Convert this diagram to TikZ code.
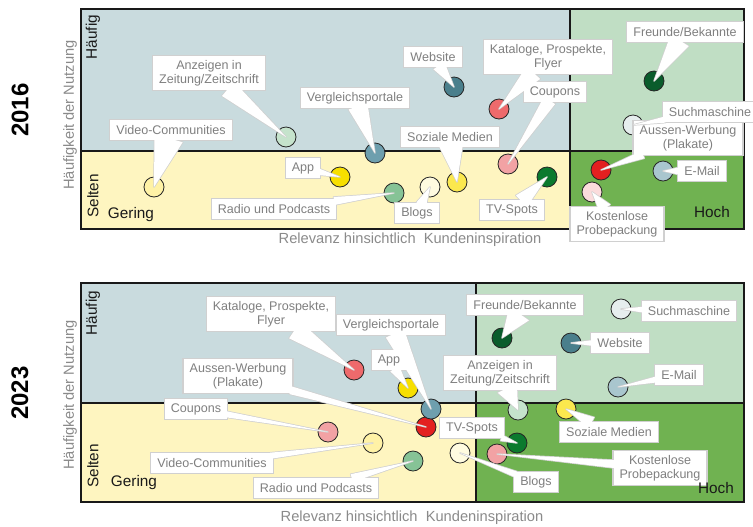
\documentclass[tikz,border=0pt]{standalone}
\usepackage{fontspec}
\setmainfont{Liberation Sans}
\usepackage{tikz}
\usetikzlibrary{calc}
\usepackage{xcolor}

\definecolor{qblue}{HTML}{C9DBDE}
\definecolor{qyellow}{HTML}{FEF5C0}
\definecolor{qlight}{HTML}{C0DEC4}
\definecolor{qgreen}{HTML}{70B251}
\definecolor{labelgray}{HTML}{7F7F7F}
\definecolor{axisgray}{HTML}{8A8A8A}
\definecolor{boxgray}{HTML}{D0D0D0}
\definecolor{cVid}{HTML}{FFF2A6}
\definecolor{cAnz}{HTML}{C5E3CC}
\definecolor{cVgl}{HTML}{6E9FAE}
\definecolor{cWeb}{HTML}{4A7F8C}
\definecolor{cKat}{HTML}{EE6A6C}
\definecolor{cCou}{HTML}{F2A2A4}
\definecolor{cSoz}{HTML}{FBE84E}
\definecolor{cTV}{HTML}{0B7A2E}
\definecolor{cBlog}{HTML}{FFFBE0}
\definecolor{cRad}{HTML}{86C396}
\definecolor{cApp}{HTML}{F7DF00}
\definecolor{cFr}{HTML}{0A5C2C}
\definecolor{cSuch}{HTML}{E6EEEE}
\definecolor{cAW}{HTML}{E32020}
\definecolor{cMail}{HTML}{A9C6CE}
\definecolor{cKP}{HTML}{FBDCDC}

\pgfdeclarelayer{back}
\pgfdeclarelayer{dots}
\pgfdeclarelayer{boxes}
\pgfdeclarelayer{wedges}
\pgfsetlayers{back,dots,boxes,wedges,main}

% callout: half width of the pointer, label node, dot node
\newcommand{\callout}[3]{%
  \path (#2) -- (#3.center) coordinate[pos=0] (#2-e);
  \coordinate (#2-b) at ($(#2-e)!-2pt!(#3.center)$);
  \begin{pgfonlayer}{boxes}
    \filldraw[wedge] ($(#2-b)!#1!90:(#3.center)$) -- (#3.center)
      -- ($(#2-b)!#1!-90:(#3.center)$) -- cycle;
    \filldraw[tagbox] (#2.south west) rectangle (#2.north east);
  \end{pgfonlayer}
  \begin{pgfonlayer}{wedges}
    \fill[white] ($(#2-b)!#1!90:(#3.center)$) -- (#3.center)
      -- ($(#2-b)!#1!-90:(#3.center)$) -- cycle;
  \end{pgfonlayer}
}

\begin{document}
\begin{tikzpicture}[
  x=0.75pt, y=-0.75pt,
  chan/.style={circle, draw=black!85, line width=0.6pt, minimum size=15pt,
    inner sep=0pt},
  tag/.style={rectangle, align=center, inner xsep=5pt, inner ysep=3.5pt,
    outer sep=0pt, minimum height=16pt, text=labelgray,
    font=\fontsize{9.4}{10.5}\selectfont},
  tagbox/.style={fill=white, draw=boxgray, line width=0.9pt},
  wedge/.style={fill=white, draw=boxgray, line width=1.1pt, line join=round},
  frame/.style={draw=black!90, line width=1.5pt},
  axis/.style={text=axisgray, font=\fontsize{11}{13}\selectfont},
  quad/.style={text=black!90, font=\fontsize{11.5}{13}\selectfont},
  year/.style={rotate=90, font=\bfseries\fontsize{18}{20}\selectfont}
]
\useasboundingbox (0,0) rectangle (753,526);

% Quadrants
\begin{pgfonlayer}{back}
  \fill[qblue] (81,9) rectangle (570,151);
  \fill[qyellow] (81,151) rectangle (570,229);
  \fill[qlight] (570,9) rectangle (744,151);
  \fill[qgreen] (570,151) rectangle (744,229);
  \draw[frame] (81,9) rectangle (744,229);
  \draw[frame] (81,151) -- (744,151);
  \draw[frame] (570,9) -- (570,229);

  \fill[qblue] (81,283) rectangle (476,403);
  \fill[qyellow] (81,403) rectangle (476,502);
  \fill[qlight] (476,283) rectangle (744,403);
  \fill[qgreen] (476,403) rectangle (744,502);
  \draw[frame] (81,283) rectangle (744,502);
  \draw[frame] (81,403) -- (744,403);
  \draw[frame] (476,283) -- (476,502);
\end{pgfonlayer}

% Axis and quadrant texts
\node[year] (y16) at (20,110) {2016};
\node[year] (y23) at (20,393) {2023};
\node[axis, rotate=90] (freq16) at (70,115) {Häufigkeit der Nutzung};
\node[axis, rotate=90] (freq23) at (70,395) {Häufigkeit der Nutzung};
\node[axis] (rel16) at (410,240) {Relevanz hinsichtlich\ \ Kundeninspiration};
\node[axis] (rel23) at (412,518) {Relevanz hinsichtlich\ \ Kundeninspiration};
\node[quad, rotate=90] (hf16) at (93,37) {Häufig};
\node[quad, rotate=90] (sl16) at (93,196) {Selten};
\node[quad] (ge16) at (131,215) {Gering};
\node[quad] (ho16) at (712,212) {Hoch};
\node[quad, rotate=90] (hf23) at (93,313) {Häufig};
\node[quad, rotate=90] (sl23) at (93,466) {Selten};
\node[quad] (ge23) at (134,483) {Gering};
\node[quad] (ho23) at (716,488) {Hoch};

% 2016 channels
\begin{pgfonlayer}{dots}
  \node[chan, fill=cVid] (vc16) at (154,187) {};
  \node[chan, fill=cAnz] (az16) at (286,137) {};
  \node[chan, fill=cVgl] (vp16) at (375,153) {};
  \node[chan, fill=cWeb] (web16) at (454,87) {};
  \node[chan, fill=cKat] (kat16) at (499,109) {};
  \node[chan, fill=cCou] (cou16) at (508,164) {};
  \node[chan, fill=cSoz] (soz16) at (457,182) {};
  \node[chan, fill=cTV] (tv16) at (547,177) {};
  \node[chan, fill=cBlog] (blog16) at (430,187) {};
  \node[chan, fill=cRad] (rad16) at (394,193) {};
  \node[chan, fill=cApp] (app16) at (340,177) {};
  \node[chan, fill=cFr] (fr16) at (654,81) {};
  \node[chan, fill=cSuch] (such16) at (633,125) {};
  \node[chan, fill=cAW] (aw16) at (601,170) {};
  \node[chan, fill=cMail] (mail16) at (663,171) {};
  \node[chan, fill=cKP] (kp16) at (592,192) {};
\end{pgfonlayer}

\node[tag] (vc16l) at (171,130) {Video-Communities};
\node[tag] (az16l) at (209,73) {Anzeigen in\\Zeitung/Zeitschrift};
\node[tag] (vp16l) at (355,98) {Vergleichsportale};
\node[tag] (web16l) at (433,57) {Website};
\node[tag] (kat16l) at (548,57) {Kataloge, Prospekte,\\Flyer};
\node[tag] (cou16l) at (555,92) {Coupons};
\node[tag] (soz16l) at (450,137) {Soziale Medien};
\node[tag] (tv16l) at (512,210) {TV-Spots};
\node[tag] (blog16l) at (417,213) {Blogs};
\node[tag] (rad16l) at (274,209) {Radio und Podcasts};
\node[tag] (app16l) at (303,168) {App};
\node[tag] (fr16l) at (685,32) {Freunde/Bekannte};
\node[tag] (aw16l) at (688,138) {Aussen-Werbung\\(Plakate)};
\node[tag] (such16l) at (710,112) {Suchmaschine};
\node[tag] (mail16l) at (702,171) {E-Mail};
\node[tag] (kp16l) at (617,224) {Kostenlose\\Probepackung};

\callout{11pt}{vc16l}{vc16}
\callout{7pt}{az16l}{az16}
\callout{7.5pt}{vp16l}{vp16}
\callout{5pt}{web16l}{web16}
\callout{7pt}{kat16l}{kat16}
\callout{5pt}{cou16l}{cou16}
\callout{9pt}{soz16l}{soz16}
\callout{6pt}{tv16l}{tv16}
\callout{4pt}{blog16l}{blog16}
\callout{3pt}{rad16l}{rad16}
\callout{2.5pt}{app16l}{app16}
\callout{8pt}{fr16l}{fr16}
\callout{3pt}{aw16l}{aw16}
\callout{2.3pt}{such16l}{such16}
\callout{3pt}{mail16l}{mail16}
\callout{5pt}{kp16l}{kp16}

% 2023 channels
\begin{pgfonlayer}{dots}
  \node[chan, fill=cKat] (kat23) at (354,370) {};
  \node[chan, fill=cAW] (aw23) at (426,427) {};
  \node[chan, fill=cVgl] (vp23) at (431,409) {};
  \node[chan, fill=cApp] (app23) at (408,388) {};
  \node[chan, fill=cCou] (cou23) at (328,432) {};
  \node[chan, fill=cVid] (vc23) at (373,443) {};
  \node[chan, fill=cRad] (rad23) at (413,461) {};
  \node[chan, fill=cBlog] (blog23) at (460,453) {};
  \node[chan, fill=cTV] (tv23) at (517,443) {};
  \node[chan, fill=cCou] (kp23) at (497,454) {};
  \node[chan, fill=cAnz] (az23) at (518,410) {};
  \node[chan, fill=cSoz] (soz23) at (566,409) {};
  \node[chan, fill=cFr] (fr23) at (502,338) {};
  \node[chan, fill=cWeb] (web23) at (571,343) {};
  \node[chan, fill=cSuch] (such23) at (621,309) {};
  \node[chan, fill=cMail] (mail23) at (618,387) {};
\end{pgfonlayer}

\node[tag] (kat23l) at (271,314) {Kataloge, Prospekte,\\Flyer};
\node[tag] (vp23l) at (391,325) {Vergleichsportale};
\node[tag] (app23l) at (389,360) {App};
\node[tag] (aw23l) at (238,376) {Aussen-Werbung\\(Plakate)};
\node[tag] (cou23l) at (196,409) {Coupons};
\node[tag] (vc23l) at (212,463) {Video-Communities};
\node[tag] (rad23l) at (316,488) {Radio und Podcasts};
\node[tag] (blog23l) at (536,482) {Blogs};
\node[tag] (tv23l) at (472,428) {TV-Spots};
\node[tag] (kp23l) at (660,468) {Kostenlose\\Probepackung};
\node[tag] (az23l) at (500,373) {Anzeigen in\\Zeitung/Zeitschrift};
\node[tag] (soz23l) at (609,432) {Soziale Medien};
\node[tag] (fr23l) at (525,305) {Freunde/Bekannte};
\node[tag] (web23l) at (620,343) {Website};
\node[tag] (such23l) at (689,311) {Suchmaschine};
\node[tag] (mail23l) at (679,375) {E-Mail};

\callout{7.5pt}{kat23l}{kat23}
\callout{7.5pt}{vp23l}{vp23}
\callout{4pt}{app23l}{app23}
\callout{3pt}{aw23l}{aw23}
\callout{2.3pt}{cou23l}{cou23}
\callout{2.3pt}{vc23l}{vc23}
\callout{3pt}{rad23l}{rad23}
\callout{2.3pt}{blog23l}{blog23}
\callout{2.3pt}{tv23l}{tv23}
\callout{3pt}{kp23l}{kp23}
\callout{8pt}{az23l}{az23}
\callout{4.5pt}{soz23l}{soz23}
\callout{9pt}{fr23l}{fr23}
\callout{2.3pt}{web23l}{web23}
\callout{2.3pt}{such23l}{such23}
\callout{2.3pt}{mail23l}{mail23}

\end{tikzpicture}
\end{document}
